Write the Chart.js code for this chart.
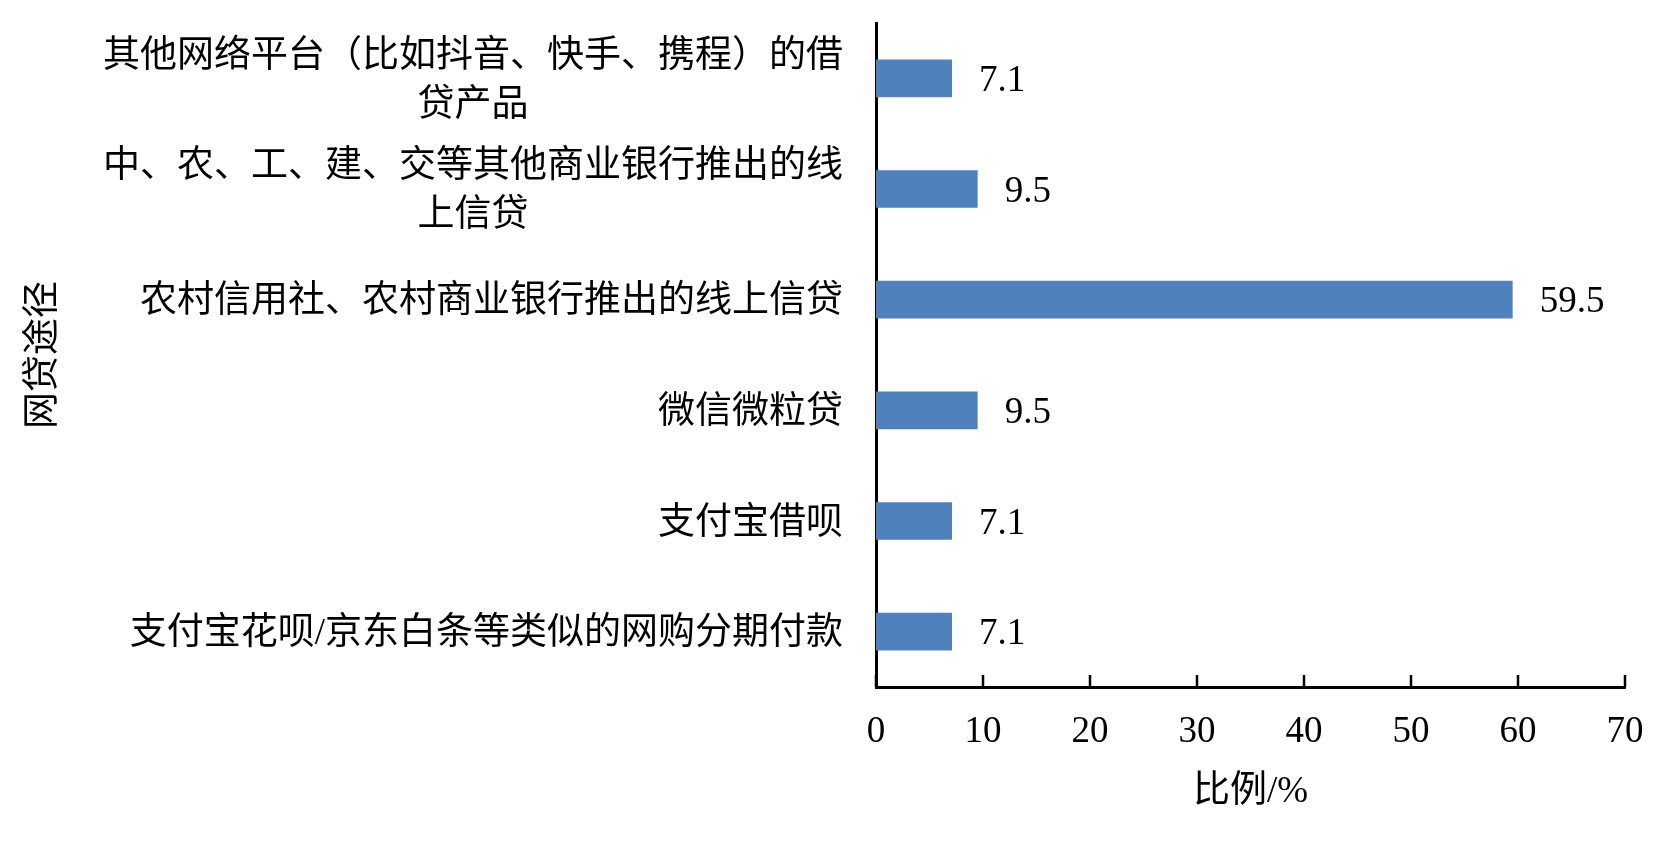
<!DOCTYPE html>
<html lang="zh">
<head>
    <meta charset="UTF-8">
    <title>网贷途径</title>
    <style>
        body {
            margin: 0;
            background: #ffffff;
        }

        .chart-box {
            width: 1659px;
            height: 845px;
            position: relative;
        }
    </style>
</head>
<body>
    <div class="chart-box">
        <canvas id="loanChart"></canvas>
    </div>

    <script src="https://cdn.jsdelivr.net/npm/chart.js"></script>
    <script>
        // categories, top to bottom (each entry is the lines of one label)
        const categories = [
            ['其他网络平台（比如抖音、快手、携程）的借', '贷产品'],
            ['中、农、工、建、交等其他商业银行推出的线', '上信贷'],
            ['农村信用社、农村商业银行推出的线上信贷'],
            ['微信微粒贷'],
            ['支付宝借呗'],
            ['支付宝花呗/京东白条等类似的网购分期付款']
        ];
        const shares = [7.1, 9.5, 59.5, 9.5, 7.1, 7.1];
        const xTicks = [0, 10, 20, 30, 40, 50, 60, 70];
        const xTitle = '比例/%';
        const yTitle = '网贷途径';

        const FONT_FAMILY = "'Liberation Serif', 'Noto Sans CJK SC', serif";
        const FONT = '37px ' + FONT_FAMILY;
        const TEXT_DY = 3; // nudge for the middle baseline

        // category labels, axis titles, value labels and inward tick marks
        const drawExtras = {
            id: 'drawExtras',
            afterDraw(chart) {
                const ctx = chart.ctx;
                const area = chart.chartArea;
                const xs = chart.scales.x;
                const ys = chart.scales.y;

                ctx.save();
                ctx.fillStyle = '#000';
                ctx.font = FONT;
                ctx.textBaseline = 'middle';

                // category labels
                categories.forEach((lines, i) => {
                    const cy = ys.getPixelForTick(i) + TEXT_DY;
                    const right = area.left - 33;
                    const maxW = Math.max(...lines.map(l => ctx.measureText(l).width));
                    lines.forEach((line, j) => {
                        const ly = cy + (j - (lines.length - 1) / 2) * 49;
                        if (lines.length === 1) {
                            ctx.textAlign = 'right';
                            ctx.fillText(line, right, ly);
                        } else {
                            ctx.textAlign = 'center';
                            ctx.fillText(line, right - maxW / 2, ly);
                        }
                    });
                });

                // value labels
                ctx.textAlign = 'left';
                chart.getDatasetMeta(0).data.forEach((bar, i) => {
                    ctx.fillText(shares[i].toFixed(1), bar.x + 27, bar.y + TEXT_DY);
                });

                // x axis title
                ctx.textAlign = 'center';
                ctx.fillText(xTitle, (area.left + area.right) / 2, 792);

                // y axis title, rotated
                ctx.save();
                ctx.translate(44, (area.top + area.bottom) / 2);
                ctx.rotate(-Math.PI / 2);
                ctx.fillText(yTitle, 0, 0);
                ctx.restore();

                // tick marks pointing into the plot
                ctx.strokeStyle = '#000';
                ctx.lineWidth = 2.5;
                xs.ticks.forEach(t => {
                    const px = xs.getPixelForValue(t.value);
                    ctx.beginPath();
                    ctx.moveTo(px, area.bottom);
                    ctx.lineTo(px, area.bottom - 12);
                    ctx.stroke();
                });

                ctx.restore();
            }
        };

        new Chart(document.getElementById('loanChart'), {
            type: 'bar',
            data: {
                labels: categories,
                datasets: [{
                    data: shares,
                    backgroundColor: '#4F81BD',
                    borderWidth: 0,
                    barPercentage: 0.34,
                    categoryPercentage: 1.0
                }]
            },
            options: {
                indexAxis: 'y',
                responsive: true,
                maintainAspectRatio: false,
                animation: false,
                layout: {
                    padding: { top: 23, right: 34, left: 0, bottom: 0 }
                },
                plugins: {
                    legend: { display: false },
                    tooltip: { enabled: false }
                },
                scales: {
                    x: {
                        min: 0,
                        max: 70,
                        afterBuildTicks: s => { s.ticks = xTicks.map(v => ({ value: v })); },
                        grid: { display: false, drawTicks: false },
                        border: { display: true, color: '#000', width: 3 },
                        ticks: {
                            color: '#000',
                            font: { family: FONT_FAMILY, size: 37 },
                            padding: 23,
                            maxRotation: 0
                        },
                        afterFit: s => {
                            s.height = 158;
                            s.paddingLeft = 0;
                            s.paddingRight = 0;
                        }
                    },
                    y: {
                        grid: { display: false, drawTicks: false },
                        border: { display: true, color: '#000', width: 3 },
                        ticks: { display: false },
                        afterFit: s => { s.width = 876; }
                    }
                }
            },
            plugins: [drawExtras]
        });
    </script>
</body>
</html>
